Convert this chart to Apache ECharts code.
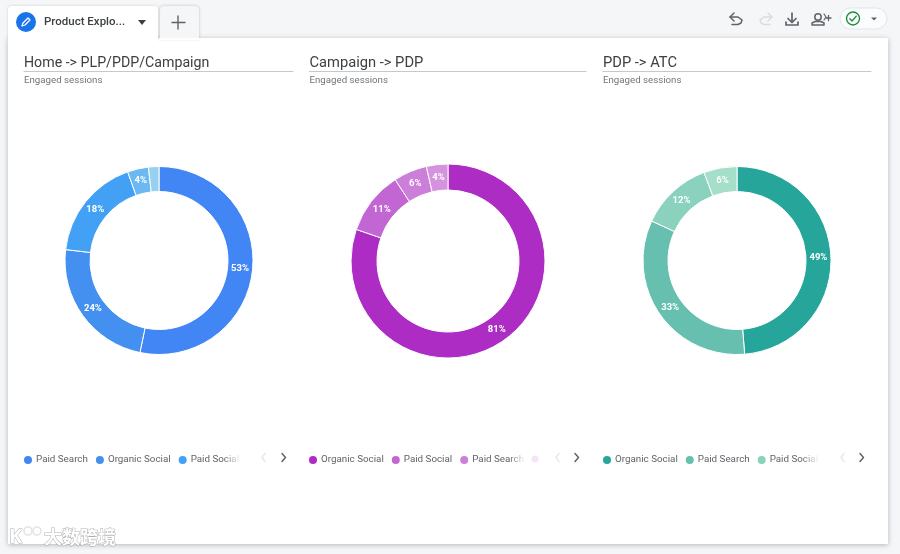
<!DOCTYPE html>
<html>
<head>
<meta charset="utf-8">
<style>html,body{margin:0;padding:0;background:#f4f6f8}#c{width:900px;height:554px}</style>
<script src="https://cdn.jsdelivr.net/npm/echarts@6/dist/echarts.min.js"></script>
</head>
<body>
<div id="c"></div>
<script>
const titles = ['Home -> PLP/PDP/Campaign', 'Campaign -> PDP', 'PDP -> ATC'];
const subtitle = 'Engaged sessions';
const namesA = ['Paid Search', 'Organic Social', 'Paid Social', 'Other A', 'Other B'];
const namesB = ['Organic Social', 'Paid Social', 'Paid Search', 'Other A'];
const namesC = ['Organic Social', 'Paid Search', 'Paid Social', 'Other A'];
const valuesA = [53.25, 23.6, 17.75, 3.6, 1.8];
const valuesB = [80.6, 10.6, 5.6, 3.6];
const valuesC = [48.7, 33.2, 12.4, 5.7];
const colorsA = ['#4285f4', '#4490f0', '#42a1f5', '#6cb8f3', '#96d2f0'];
const colorsB = ['#ad2dc4', '#c266d3', '#cb7fd9', '#d593df'];
const colorsC = ['#26a69a', '#66bfaf', '#8ad2be', '#a5dec9'];
const font = 'Roboto';

const pies = [
  {names: namesA, values: valuesA, colors: colorsA, center: [159, 260.5], r: [69, 94], tSize: 14.2,
   lx: 17, tx: 24, lineEnd: 293, chev: [263, 284], fade: [224, 241]},
  {names: namesB, values: valuesB, colors: colorsB, center: [448, 261], r: [71, 97], tSize: 14.7,
   lx: 302, tx: 309.5, lineEnd: 586, chev: [557, 577], fade: [509, 526]},
  {names: namesC, values: valuesC, colors: colorsC, center: [737, 260.5], r: [69, 94], tSize: 14.7,
   lx: 596, tx: 603, lineEnd: 871, chev: [842, 862], fade: [802, 819]}
];

const series = pies.map(p => ({
  type: 'pie', center: p.center, radius: p.r, startAngle: 90, clockwise: true,
  silent: true, animation: false, avoidLabelOverlap: false,
  itemStyle: {borderColor: '#fff', borderWidth: 1},
  label: {
    position: 'inside', color: '#fff', fontFamily: font, fontSize: 9.5, fontWeight: 'bold',
    formatter: d => d.value >= 3 ? Math.round(d.value) + '%' : ''
  },
  labelLayout: params => {
    const r = params.labelRect;
    const vx = r.x + r.width / 2 - p.center[0], vy = r.y + r.height / 2 - p.center[1];
    const len = Math.sqrt(vx * vx + vy * vy) || 1;
    return {dx: -3 * vx / len, dy: -3 * vy / len};
  },
  labelLine: {show: false},
  data: p.values.map((v, i) => ({value: v, name: p.names[i], itemStyle: {color: p.colors[i]}}))
}));

const legend = pies.map(p => ({
  show: true, orient: 'horizontal', left: p.lx, top: 449, itemWidth: 10, itemHeight: 10, itemGap: 6,
  icon: 'circle', selectedMode: false,
  textStyle: {color: '#5f6368', fontFamily: font, fontSize: 9.8, padding: [0, 0, 0, -2]},
  data: p.names.slice(0, 3).map((n, i) => ({name: n, icon: 'circle', itemStyle: {color: p.colors[i]}}))
}));

const g = [];
const rect = (x, y, w, h, fill, extra) => g.push(Object.assign({type: 'rect', z: 0, silent: true,
  shape: {x, y, width: w, height: h, r: (extra && extra.r) || 0}, style: Object.assign({fill}, (extra && extra.style) || {})},
  extra && extra.z != null ? {z: extra.z} : {}));
const text = (x, y, t, size, color, extra) => g.push({type: 'text', z: 5, silent: true, x, y,
  style: Object.assign({text: t, fontFamily: font, fontSize: size, fill: color, textVerticalAlign: 'middle'}, extra || {})});
const line = (pts, color, w, z) => g.push({type: 'polyline', z: z || 5, silent: true,
  shape: {points: pts}, style: {stroke: color, lineWidth: w, fill: null, lineCap: 'round', lineJoin: 'round'}});
const circle = (cx, cy, r, style, z) => g.push({type: 'circle', z: z || 5, silent: true, shape: {cx, cy, r}, style});

// card and tabs
rect(8, 38, 880, 506, '#ffffff', {style: {shadowBlur: 5, shadowColor: 'rgba(60,64,67,.35)', shadowOffsetY: 1}});
rect(160, 6, 39, 33, '#f4f6f8', {r: [4, 4, 0, 0], style: {shadowBlur: 3, shadowColor: 'rgba(60,64,67,.3)'}});
rect(8, 6, 150, 34, '#ffffff', {r: [4, 4, 0, 0], z: 1, style: {shadowBlur: 3, shadowColor: 'rgba(60,64,67,.2)'}});
rect(8, 38, 150, 5, '#ffffff', {z: 1});
rect(159, 38, 42, 2, '#ffffff', {z: 1});

circle(26, 22, 10, {fill: '#1a73e8'});
line([[22, 26], [23, 23], [28, 18], [30, 20], [25, 25], [22, 26]], '#fff', 1.3, 6);
text(44, 22.5, 'Product Explo...', 11.5, '#3c4043', {fontWeight: 500});
g.push({type: 'polygon', z: 5, silent: true, shape: {points: [[138, 20], [146, 20], [142, 25]]}, style: {fill: '#3c4043'}});
line([[178, 16], [178, 29]], '#5f6368', 1.4);
line([[172, 22.5], [185, 22.5]], '#5f6368', 1.4);

// toolbar icons
line([[734, 13], [730, 17], [734, 21]], '#5f6368', 1.5);
line([[730, 17], [738, 17], [742, 20], [741, 23], [738, 24.5], [732, 24.5]], '#5f6368', 1.5);
line([[768, 13], [772, 17], [768, 21]], '#dadce0', 1.5);
line([[772, 17], [764, 17], [760, 20], [761, 23], [764, 24.5], [770, 24.5]], '#dadce0', 1.5);
line([[792, 13], [792, 22]], '#5f6368', 1.7);
line([[788, 18.5], [792, 22.5], [796, 18.5]], '#5f6368', 1.7);
line([[786, 22], [786, 25], [798, 25], [798, 22]], '#5f6368', 1.7);
circle(818, 17, 3.2, {fill: 'none', stroke: '#5f6368', lineWidth: 1.5});
line([[812, 25], [812, 23], [815, 21.5], [821, 21.5], [824, 23], [824, 25], [812, 25]], '#5f6368', 1.5);
line([[824, 14], [826, 17], [824, 20]], '#5f6368', 1.2);
line([[826, 18], [831, 18]], '#5f6368', 1.3);
line([[828.5, 15.5], [828.5, 20.5]], '#5f6368', 1.3);
rect(840, 8, 47, 21, '#fbfcfd', {r: 10.5, z: 1, style: {stroke: '#e3e6e9', lineWidth: 1}});
circle(853, 18.5, 6.5, {fill: 'none', stroke: '#1e8e3e', lineWidth: 1.4});
line([[849.8, 18.7], [852, 21], [856.2, 16.3]], '#1e8e3e', 1.3);
g.push({type: 'polygon', z: 5, silent: true, shape: {points: [[871, 17.5], [877, 17.5], [874, 20.5]]}, style: {fill: '#5f6368'}});

// headings, rules, fades, pagers
pies.forEach((p, i) => {
  text(p.tx, 63, titles[i], p.tSize, '#3c4043');
  line([[p.tx, 71.5], [p.lineEnd, 71.5]], '#c6c9cc', 1, 4);
  text(p.tx, 81, subtitle, 9.7, '#70757a');
  g.push({type: 'rect', z: 50, silent: true, shape: {x: p.fade[0], y: 450, width: p.fade[1] - p.fade[0], height: 18},
    style: {fill: new echarts.graphic.LinearGradient(0, 0, 1, 0, [
      {offset: 0, color: 'rgba(255,255,255,0)'}, {offset: 1, color: 'rgba(255,255,255,1)'}])}});
  rect(p.fade[1], 450, p.chev[0] - p.fade[1] - 4, 18, '#ffffff', {z: 50});
  const [a, b] = p.chev, y = 457.5;
  line([[a + 2, y - 4], [a - 1, y], [a + 2, y + 4]], '#e4e6e8', 1.4, 60);
  line([[b - 2, y - 4], [b + 1.5, y], [b - 2, y + 4]], '#5f6368', 1.5, 60);
});
circle(535, 459, 3.5, {fill: '#f2e6f5'}, 60);

// watermark
const wm = {stroke: 'rgba(110,110,110,.55)', lineWidth: 1};
g.push({type: 'text', z: 70, silent: true, x: 44, y: 537, style: Object.assign({text: '大数跨境',
  fontFamily: 'Noto Sans CJK SC', fontSize: 18, fontWeight: 'bold', fill: '#ffffff', textVerticalAlign: 'middle'}, wm)});
g.push({type: 'text', z: 70, silent: true, x: 9, y: 537, style: Object.assign({text: 'K', fontFamily: 'Noto Sans',
  fontSize: 20, fontWeight: 'bold', fill: '#ffffff', textVerticalAlign: 'middle'}, wm)});
circle(28, 531, 4, {fill: 'none', stroke: '#e4e4e4', lineWidth: 1.6}, 70);
circle(37, 531, 4, {fill: 'none', stroke: '#e4e4e4', lineWidth: 1.6}, 70);

const chart = echarts.init(document.getElementById('c'), null, {renderer: 'canvas'});
chart.setOption({
  animation: false,
  backgroundColor: '#f4f6f8',
  tooltip: {show: false},
  legend,
  series,
  graphic: {elements: g}
});
</script>
</body>
</html>
